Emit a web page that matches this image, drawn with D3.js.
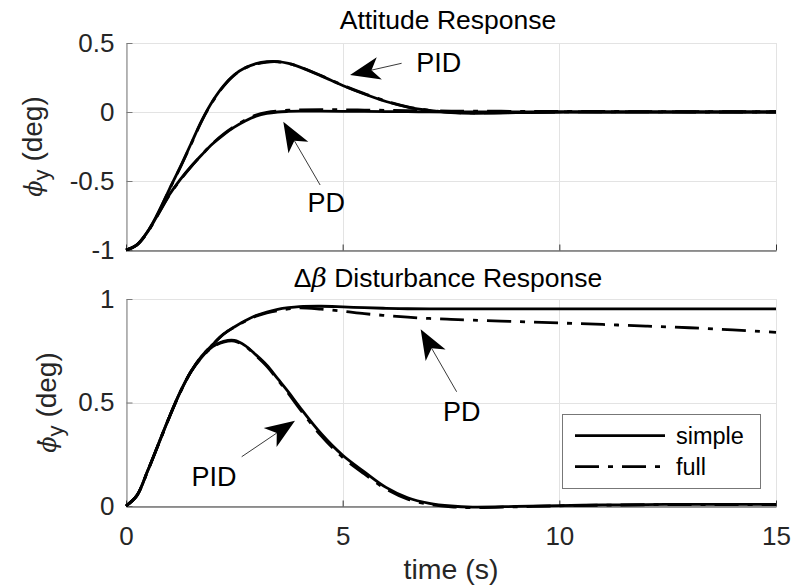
<!DOCTYPE html>
<html>
<head>
<meta charset="utf-8">
<script src="https://cdn.jsdelivr.net/npm/d3@7"></script>
<style>
  html, body { margin: 0; padding: 0; background: #fff; }
  svg { display: block; font-family: "Liberation Sans", Arial, sans-serif; }
</style>
</head>
<body>
<svg id="chart" width="796" height="586"></svg>
<script>
// ---------------- data ----------------
const time = [0,0.25,0.5,0.75,1,1.25,1.5,1.75,2,2.25,2.5,2.75,3,3.25,3.5,3.75,4,4.5,5,5.5,6,6.5,7,7.5,8,9,10,11,12,13,14,15];

// Attitude response (phi_y, deg)
const attPIDsimple = [-1,-0.962,-0.865,-0.725,-0.56,-0.4,-0.23,-0.06,0.08,0.19,0.27,0.32,0.35,0.364,0.365,0.352,0.327,0.262,0.192,0.13,0.076,0.036,0.011,-0.004,-0.009,-0.005,0,0,0,0,0,0];
const attPIDfull   = [-1,-0.963,-0.867,-0.728,-0.563,-0.404,-0.235,-0.064,0.076,0.186,0.267,0.318,0.348,0.362,0.364,0.351,0.327,0.264,0.194,0.133,0.079,0.038,0.013,-0.002,-0.007,-0.004,0,0.001,0.001,0,0,0];
const attPDsimple  = [-1,-0.963,-0.868,-0.735,-0.6,-0.49,-0.395,-0.31,-0.23,-0.165,-0.11,-0.065,-0.03,-0.01,0,0.004,0.006,0.006,0.005,0.004,0.003,0.002,0.001,0,0,0,0,0,0,0,0,0];
const attPDfull    = [-1,-0.964,-0.87,-0.738,-0.604,-0.494,-0.397,-0.31,-0.228,-0.16,-0.105,-0.058,-0.022,-0.002,0.008,0.013,0.016,0.017,0.016,0.014,0.012,0.01,0.008,0.007,0.006,0.005,0.004,0.004,0.003,0.003,0.002,0.002];

// Delta-beta disturbance response (phi_y dot, deg)
const distPIDsimple = [0,0.05,0.17,0.3,0.43,0.55,0.65,0.72,0.77,0.795,0.8,0.775,0.73,0.68,0.615,0.55,0.48,0.35,0.245,0.165,0.09,0.04,0.013,0,-0.005,-0.002,0.002,0.005,0.007,0.008,0.008,0.008];
const distPIDfull   = [0,0.05,0.168,0.298,0.428,0.548,0.648,0.718,0.768,0.792,0.797,0.772,0.726,0.675,0.61,0.543,0.472,0.34,0.235,0.155,0.082,0.033,0.008,-0.004,-0.008,-0.004,0.001,0.004,0.006,0.007,0.007,0.007];
const distPDsimple  = [0,0.05,0.17,0.3,0.43,0.55,0.65,0.725,0.78,0.83,0.865,0.895,0.92,0.937,0.95,0.958,0.963,0.965,0.962,0.958,0.955,0.953,0.952,0.952,0.952,0.952,0.952,0.952,0.952,0.952,0.952,0.952];
const distPDfull    = [0,0.05,0.17,0.3,0.43,0.55,0.65,0.725,0.78,0.83,0.864,0.893,0.917,0.933,0.944,0.952,0.957,0.951,0.941,0.929,0.92,0.912,0.906,0.902,0.898,0.891,0.884,0.877,0.869,0.861,0.851,0.839];

const xTicks = [0,5,10,15];
const xTickLabels = ["0","5","10","15"];
const yTicksTop = [-1,-0.5,0,0.5];
const yTickLabelsTop = ["-1","-0.5","0","0.5"];
const yTicksBottom = [0,0.5,1];
const yTickLabelsBottom = ["0","0.5","1"];

const legendLabels = ["simple","full"];

// annotations: text position, arrow tail, arrow tip (data coords)
const annotTop = [
  {label:"PID", tx:7.22, tv:0.353, ax:6.36, av:0.353, bx:5.17, bv:0.268},
  {label:"PD",  tx:4.62, tv:-0.66, ax:4.48, av:-0.529, bx:3.63, bv:-0.07}
];
const annotBottom = [
  {label:"PID", tx:2.03, tv:0.138, ax:2.67, av:0.238, bx:3.90, bv:0.412},
  {label:"PD",  tx:7.75, tv:0.452, ax:7.63, av:0.552, bx:6.80, bv:0.854}
];

// ---------------- layout ----------------
const svg = d3.select("#chart");
const X0 = 126, X1 = 776;
const x = d3.scaleLinear().domain([0,15]).range([X0, X1]);

const panels = [
  {top:43, bottom:250, domain:[-1,0.5], ticks:yTicksTop, labels:yTickLabelsTop,
   showX:false, dot:false, labelX:42,
   series:[attPIDsimple, attPDsimple], seriesFull:[attPIDfull, attPDfull], annots:annotTop},
  {top:299, bottom:506, domain:[0,1], ticks:yTicksBottom, labels:yTickLabelsBottom,
   showX:true, dot:true, labelX:56,
   series:[distPIDsimple, distPDsimple], seriesFull:[distPIDfull, distPDfull], annots:annotBottom}
];

const gridColor = "#e3e3e3";
const textColor = "#262626";

panels.forEach((p, pi) => {
  const y = d3.scaleLinear().domain(p.domain).range([p.bottom, p.top]);
  const g = svg.append("g");

  // grid
  g.append("g").selectAll("line.gx").data(xTicks).join("line")
    .attr("x1", d => Math.round(x(d)) + 0.5).attr("x2", d => Math.round(x(d)) + 0.5)
    .attr("y1", p.top).attr("y2", p.bottom)
    .attr("stroke", gridColor).attr("stroke-width", 1);
  g.append("g").selectAll("line.gy").data(p.ticks).join("line")
    .attr("y1", d => Math.round(y(d)) + 0.5).attr("y2", d => Math.round(y(d)) + 0.5)
    .attr("x1", X0).attr("x2", X1)
    .attr("stroke", gridColor).attr("stroke-width", 1);
  // box top/right
  g.append("line").attr("x1", X0).attr("x2", X1 + 0.5).attr("y1", p.top + 0.5).attr("y2", p.top + 0.5)
    .attr("stroke", gridColor);
  g.append("line").attr("x1", X1 + 0.5).attr("x2", X1 + 0.5).attr("y1", p.top).attr("y2", p.bottom)
    .attr("stroke", gridColor);

  // axes
  const yAxis = d3.axisLeft(y).tickValues(p.ticks)
    .tickFormat((d, i) => p.labels[i]).tickSizeInner(-6).tickSizeOuter(0).tickPadding(12);
  const ya = g.append("g").attr("transform", `translate(${X0 + 0.5},0)`).call(yAxis);
  ya.select(".domain").attr("stroke", "#7a7a7a");
  ya.selectAll(".tick line").attr("stroke", "#7a7a7a");
  ya.selectAll(".tick text").attr("font-size", 26).attr("fill", textColor)
    .attr("font-family", "Liberation Sans, Arial, sans-serif");

  const xAxis = d3.axisBottom(x).tickValues(xTicks)
    .tickFormat((d, i) => p.showX ? xTickLabels[i] : "").tickSizeInner(-6).tickSizeOuter(0).tickPadding(20);
  const xa = g.append("g").attr("transform", `translate(0,${p.bottom + 0.5})`).call(xAxis);
  xa.select(".domain").attr("stroke", "#333");
  xa.selectAll(".tick line").attr("stroke", "#333");
  xa.selectAll(".tick text").attr("font-size", 26).attr("fill", textColor)
    .attr("font-family", "Liberation Sans, Arial, sans-serif");

  // curves
  const line = d3.line().x((d, i) => x(time[i])).y(d => y(d)).curve(d3.curveCatmullRom.alpha(0.5));
  p.series.forEach(s => {
    g.append("path").attr("d", line(s)).attr("fill", "none")
      .attr("stroke", "#000").attr("stroke-width", 2.8).attr("stroke-linejoin", "round");
  });
  p.seriesFull.forEach(s => {
    g.append("path").attr("d", line(s)).attr("fill", "none")
      .attr("stroke", "#000").attr("stroke-width", 2.8)
      .attr("stroke-dasharray", "24,9,5,9");
  });

  // annotations
  p.annots.forEach(a => {
    const tip = [x(a.bx), y(a.bv)];
    const tail = [x(a.ax), y(a.av)];
    const dx = tail[0] - tip[0], dy = tail[1] - tip[1];
    const len = Math.hypot(dx, dy);
    const ux = dx / len, uy = dy / len;   // from tip toward tail
    const px = -uy, py = ux;
    const L = 30, W = 11.5, N = 22;
    const back = [tip[0] + ux * L, tip[1] + uy * L];
    const c1 = [back[0] + px * W, back[1] + py * W];
    const c2 = [back[0] - px * W, back[1] - py * W];
    const notch = [tip[0] + ux * N, tip[1] + uy * N];
    g.append("line").attr("x1", tail[0]).attr("y1", tail[1])
      .attr("x2", notch[0]).attr("y2", notch[1])
      .attr("stroke", "#222").attr("stroke-width", 0.9);
    g.append("path").attr("d", `M${tip}L${c1}L${notch}L${c2}Z`).attr("fill", "#000");
    g.append("text").attr("x", x(a.tx)).attr("y", y(a.tv))
      .attr("text-anchor", "middle").attr("dominant-baseline", "central")
      .attr("font-size", 27).attr("fill", "#000").text(a.label);
  });

  // y label
  const yl = svg.append("text")
    .attr("transform", `translate(${p.labelX},${(p.top + p.bottom) / 2}) rotate(-90)`)
    .attr("text-anchor", "middle").attr("font-size", 28).attr("fill", textColor);
  yl.append("tspan").attr("font-family", "DejaVu Serif, serif").attr("font-style", "italic")
    .attr("font-size", 24).text(p.dot ? "\u03D5\u0307" : "\u03D5");
  yl.append("tspan").attr("baseline-shift", "-30%").attr("font-size", 22).text("y");
  yl.append("tspan").text(" (deg)");
});

// titles
svg.append("text").attr("x", 448).attr("y", 29).attr("text-anchor", "middle")
  .attr("font-size", 26.5).attr("fill", "#000").text("Attitude Response");
const t2 = svg.append("text").attr("x", 448).attr("y", 287).attr("text-anchor", "middle")
  .attr("font-size", 26.5).attr("fill", "#000");
t2.append("tspan").text("\u0394");
t2.append("tspan").attr("font-family", "DejaVu Serif, serif").attr("font-style", "italic").text("\u03B2");
t2.append("tspan").text(" Disturbance Response");

// x label
svg.append("text").attr("x", 451).attr("y", 579).attr("text-anchor", "middle")
  .attr("font-size", 28.5).attr("fill", textColor).text("time (s)");

// legend
const lg = svg.append("g");
lg.append("rect").attr("x", 562.5).attr("y", 414.5).attr("width", 198).attr("height", 74)
  .attr("fill", "#fff").attr("stroke", "#777").attr("stroke-width", 1);
const legendStyles = [null, "24,9,5,9"];
legendLabels.forEach((lab, i) => {
  const ly = 435.7 + i * 31;
  const ln = lg.append("line").attr("x1", 575).attr("x2", 665).attr("y1", ly).attr("y2", ly)
    .attr("stroke", "#000").attr("stroke-width", 2.8);
  if (legendStyles[i]) ln.attr("stroke-dasharray", legendStyles[i]);
  lg.append("text").attr("x", 676).attr("y", ly).attr("dominant-baseline", "central")
    .attr("font-size", 23.5).attr("fill", "#000").text(lab);
});
</script>
</body>
</html>
